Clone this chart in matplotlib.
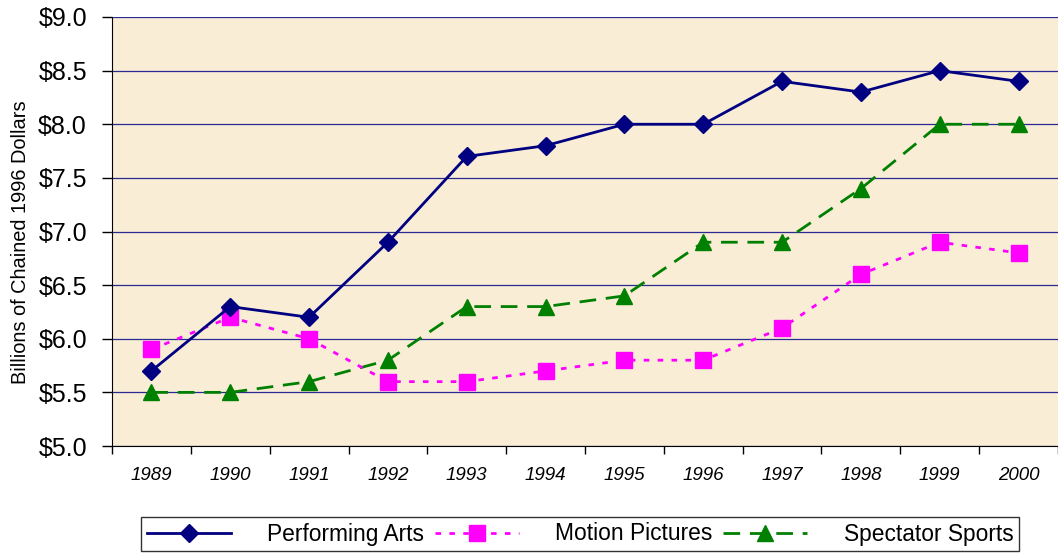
import numpy as np
import matplotlib.pyplot as plt
from matplotlib.ticker import FuncFormatter

years = ["1989", "1990", "1991", "1992", "1993", "1994",
         "1995", "1996", "1997", "1998", "1999", "2000"]
performing_arts = [5.7, 6.3, 6.2, 6.9, 7.7, 7.8, 8.0, 8.0, 8.4, 8.3, 8.5, 8.4]
motion_pictures = [5.9, 6.2, 6.0, 5.6, 5.6, 5.7, 5.8, 5.8, 6.1, 6.6, 6.9, 6.8]
spectator_sports = [5.5, 5.5, 5.6, 5.8, 6.3, 6.3, 6.4, 6.9, 6.9, 7.4, 8.0, 8.0]


def main():
    plt.rcParams["font.family"] = ["Liberation Sans", "DejaVu Sans"]
    fig = plt.figure(figsize=(10.58, 5.55), dpi=100)
    ax = fig.add_axes([112 / 1058, 1 - 446 / 555, 946 / 1058, 429 / 555])
    ax.set_facecolor("#F9EDD6")

    x = np.arange(len(years))
    ax.plot(x, performing_arts, color="#000080", lw=2, marker="D", ms=9,
            label="Performing Arts", zorder=5)
    ax.plot(x, motion_pictures, color="#FF00FF", lw=2, ls=(0, (2, 3)),
            marker="s", ms=11, label="Motion Pictures", zorder=4)
    ax.plot(x, spectator_sports, color="#008000", lw=2, ls=(0, (6, 3.5)),
            marker="^", ms=11, label="Spectator Sports", zorder=3)

    ax.set_xlim(-0.5, len(years) - 0.5)
    ax.set_ylim(5.0, 9.0)
    ax.set_yticks(np.arange(5.0, 9.01, 0.5))
    ax.yaxis.set_major_formatter(FuncFormatter(lambda v, p: "${:.1f}".format(v)))
    ax.tick_params(axis="y", labelsize=18, direction="out", length=7, width=1, pad=11)
    ax.grid(axis="y", color="#2a2a90", lw=0.9)
    ax.set_axisbelow(True)

    ax.set_xticks(x)
    ax.set_xticklabels(years, fontsize=13.5, style="italic")
    ax.set_xticks(np.arange(-0.5, len(years), 1), minor=True)
    ax.tick_params(axis="x", which="major", length=0, pad=15)
    ax.tick_params(axis="x", which="minor", direction="out", length=6, width=1)

    ax.set_ylabel("Billions of Chained 1996 Dollars", fontsize=14.4)
    ax.yaxis.set_label_coords(-82 / 946, 0.475)

    for s in ["top", "right"]:
        ax.spines[s].set_visible(False)
    ax.spines["left"].set_color("black")
    ax.spines["bottom"].set_color("black")

    leg = fig.legend(loc="center", bbox_to_anchor=(580 / 1058, 1 - 534 / 555),
                     ncol=3, fontsize=16.4, frameon=True, fancybox=False,
                     handlelength=3.7, handletextpad=1.6, columnspacing=0.45,
                     borderpad=0.25, edgecolor="black")
    leg.get_frame().set_linewidth(1)

    fig.savefig("out.png", dpi=100)


if __name__ == "__main__":
    main()
